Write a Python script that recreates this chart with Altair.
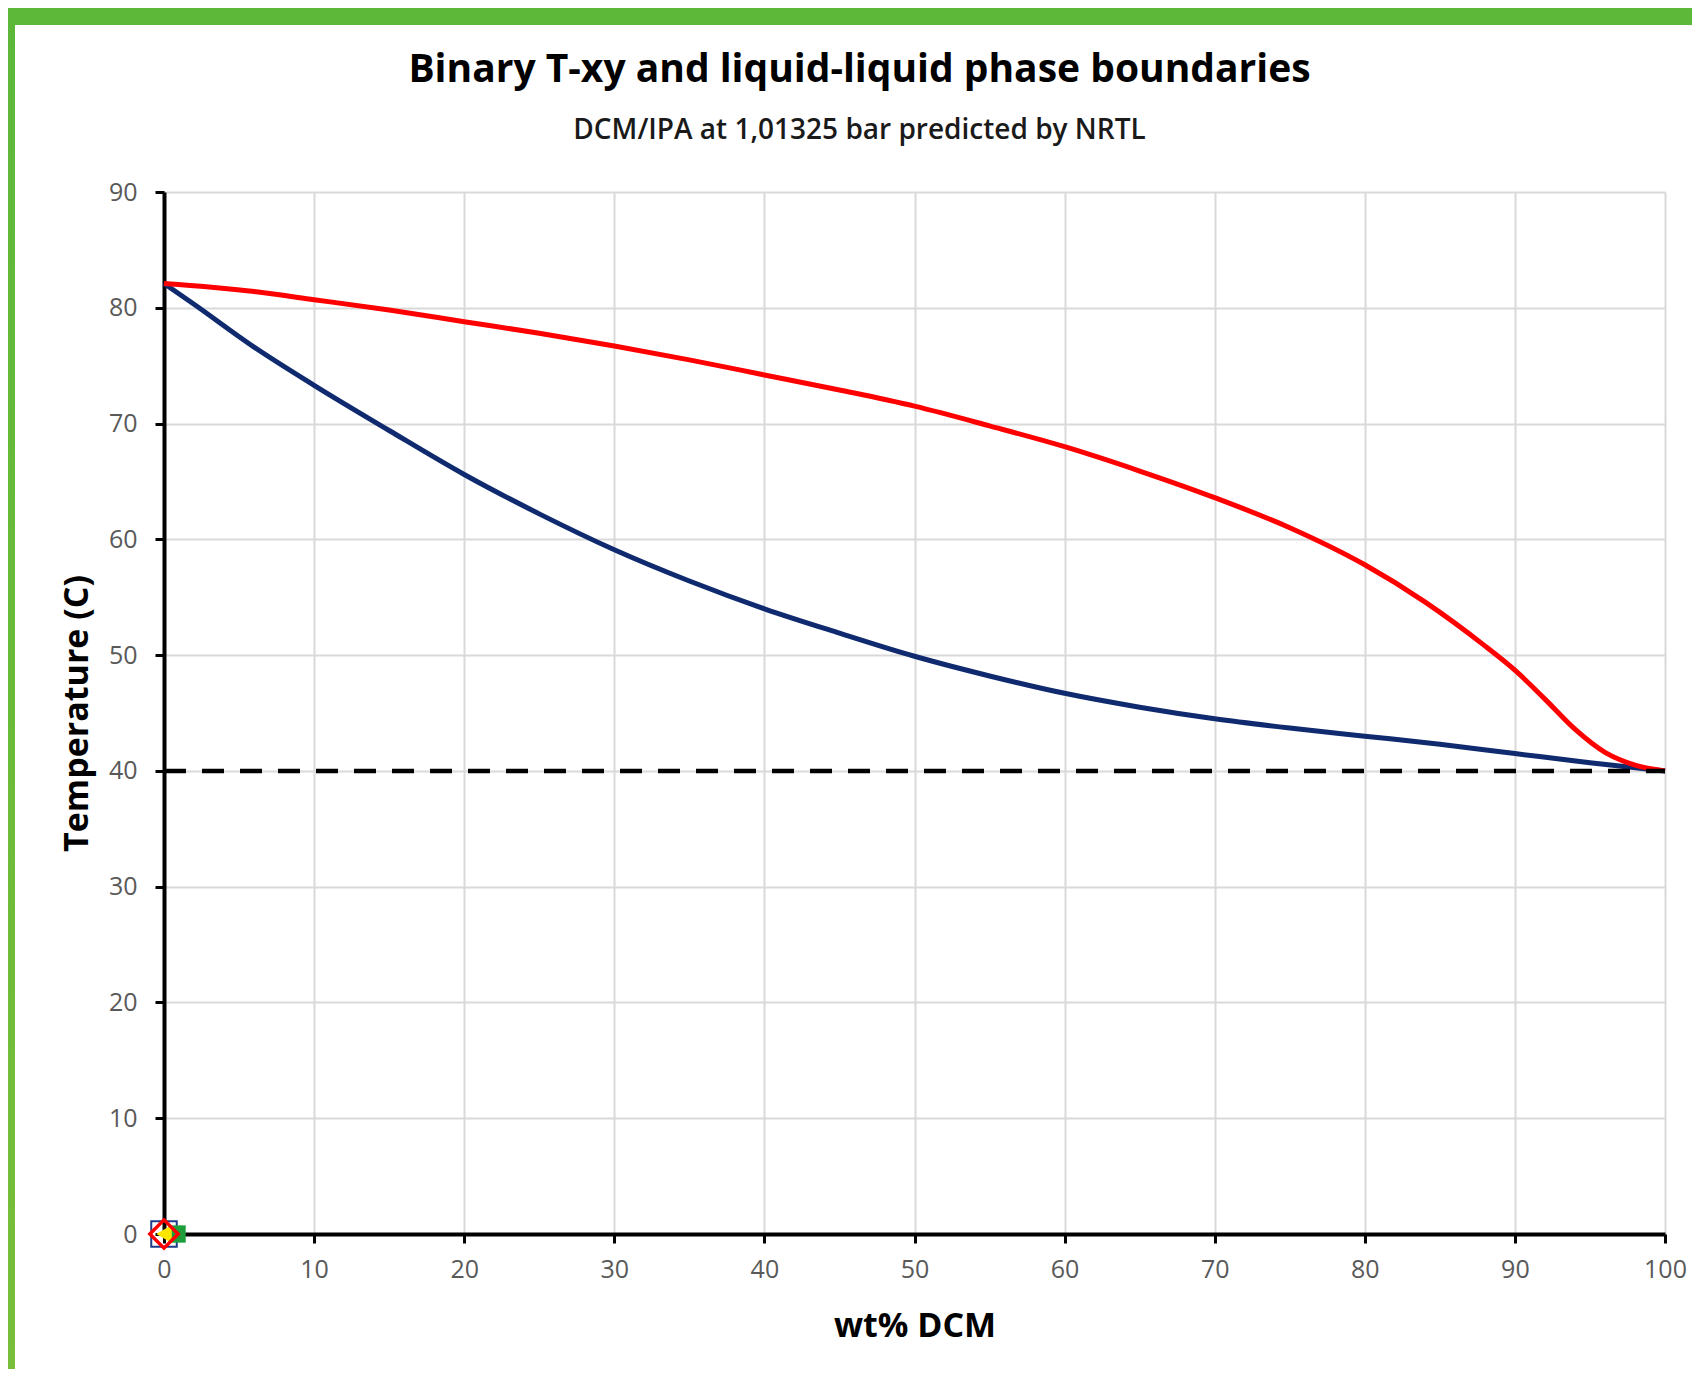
import altair as alt
import pandas as pd

# ---- data ----
liq_x = [0, 2, 6, 10, 15, 20, 25, 30, 35, 40, 45, 50, 55, 60, 65, 70, 75, 80, 85, 90, 95, 100]
liq_t = [82.1, 80.3, 76.6, 73.3, 69.4, 65.6, 62.2, 59.1, 56.4, 54.0, 51.9, 49.9, 48.2, 46.7, 45.5,
         44.5, 43.7, 43.0, 42.3, 41.5, 40.7, 40.0]

vap_x = [0, 3, 6, 10, 15, 20, 25, 30, 35, 40, 45, 50, 55, 60, 65, 70, 75, 80, 84, 88, 90, 92, 94,
         96, 98, 100]
vap_t = [82.1, 81.8, 81.4, 80.7, 79.8, 78.8, 77.8, 76.7, 75.5, 74.2, 72.9, 71.5, 69.8, 68.0, 65.9,
         63.6, 61.0, 57.8, 54.6, 50.8, 48.7, 46.2, 43.6, 41.6, 40.5, 40.0]

lle_x = [0, 100]
lle_t = [40, 40]

mk_x = [0, 0.87, 0, 0]
mk_t = [0, 0, 0, 0]

x_ticks = [0, 10, 20, 30, 40, 50, 60, 70, 80, 90, 100]
y_ticks = [0, 10, 20, 30, 40, 50, 60, 70, 80, 90]

TITLE = "Binary T-xy and liquid-liquid phase boundaries"
SUBTITLE = "DCM/IPA at 1,01325 bar predicted by NRTL"

W, H = 1501, 1042
PAD_L, PAD_T, PAD_R, PAD_B = 156, 184, 27, 135
FONT = "Open Sans"

xs = alt.Scale(domain=[0, 100], nice=False, zero=False)
ys = alt.Scale(domain=[0, 90], nice=False, zero=False)

xax = alt.Axis(values=x_ticks, title="wt% DCM", grid=True, labelFontSize=25, titleFontSize=34,
               titlePadding=27, labelPadding=14, labelFlush=False)
yax = alt.Axis(values=y_ticks, title="Temperature (C)", grid=True, labelFontSize=25,
               titleFontSize=34, titlePadding=14, labelPadding=18)

X = alt.X("x:Q", scale=xs, axis=xax)
Y = alt.Y("t:Q", scale=ys, axis=yax)

liq = pd.DataFrame({"x": liq_x, "t": liq_t})
vap = pd.DataFrame({"x": vap_x, "t": vap_t})
lle = pd.DataFrame({"x": lle_x, "t": lle_t})

one = pd.DataFrame({"a": [0]})

# decorative frame bands (outside the plot area)
top_band = alt.Chart(one).mark_rect(color="#5DB83A").encode(
    x=alt.value(-PAD_L), x2=alt.value(W + PAD_R), y=alt.value(-PAD_T), y2=alt.value(-167))
left_band = alt.Chart(one).mark_rect(
    color=alt.Gradient(gradient="linear", x1=0, x2=0, y1=0, y2=1,
                       stops=[alt.GradientStop(color="#5DB83A", offset=0),
                              alt.GradientStop(color="#78BE3A", offset=1)])
).encode(x=alt.value(-PAD_L), x2=alt.value(-149), y=alt.value(-167), y2=alt.value(H + PAD_B))

liq_line = alt.Chart(liq).mark_line(color="#0F2A6E", strokeWidth=5, interpolate="monotone").encode(
    x=X, y=Y)
vap_line = alt.Chart(vap).mark_line(color="#FF0000", strokeWidth=5, interpolate="monotone").encode(
    x=X, y=Y)
lle_line = alt.Chart(lle).mark_line(color="black", strokeWidth=4.5, strokeDash=[22, 16]).encode(
    x=X, y=Y)


def marker(i, shape, size, fill=None, stroke=None, sw=0):
    d = pd.DataFrame({"x": [mk_x[i]], "t": [mk_t[i]]})
    kw = dict(shape=shape, size=size, opacity=1, strokeWidth=sw)
    if fill:
        kw["fill"] = fill
        kw["filled"] = True
    else:
        kw["filled"] = False
        kw["fillOpacity"] = 0
    if stroke:
        kw["stroke"] = stroke
    return alt.Chart(d).mark_point(**kw).encode(x=X, y=Y)


m_blue = marker(0, "square", 650, stroke="#1F3C88", sw=2)
m_green = marker(1, "square", 300, fill="#1E9E3A")
m_yellow = marker(2, "triangle-left", 320, fill="#FFE600")
m_red = marker(3, "diamond", 800, stroke="#FF0000", sw=3.5)

chart = alt.layer(
    liq_line, vap_line, lle_line, m_blue, m_green, m_yellow, m_red, top_band, left_band
).properties(
    width=W, height=H,
    title=alt.TitleParams(TITLE, subtitle=SUBTITLE, anchor="middle", dx=-55, offset=-137,
                          fontSize=39, font=FONT, fontWeight="bold", color="black",
                          subtitleFont=FONT, subtitleFontSize=28, subtitleFontWeight=600,
                          subtitleColor="#1a1a1a", subtitlePadding=27),
    autosize=alt.AutoSizeParams(type="none"),
    padding={"left": PAD_L, "top": PAD_T, "right": PAD_R, "bottom": PAD_B},
    background="white",
).configure_view(stroke=None).configure_axis(
    labelFont=FONT, titleFont=FONT, labelColor="#595959", titleColor="black", titleFontWeight="bold",
    domainColor="black", domainWidth=4, tickColor="black", tickWidth=3, tickSize=9,
    gridColor="#D9D9D9", gridWidth=2,
)

chart.save("out.html", embed_options={"renderer": "svg", "actions": False})
